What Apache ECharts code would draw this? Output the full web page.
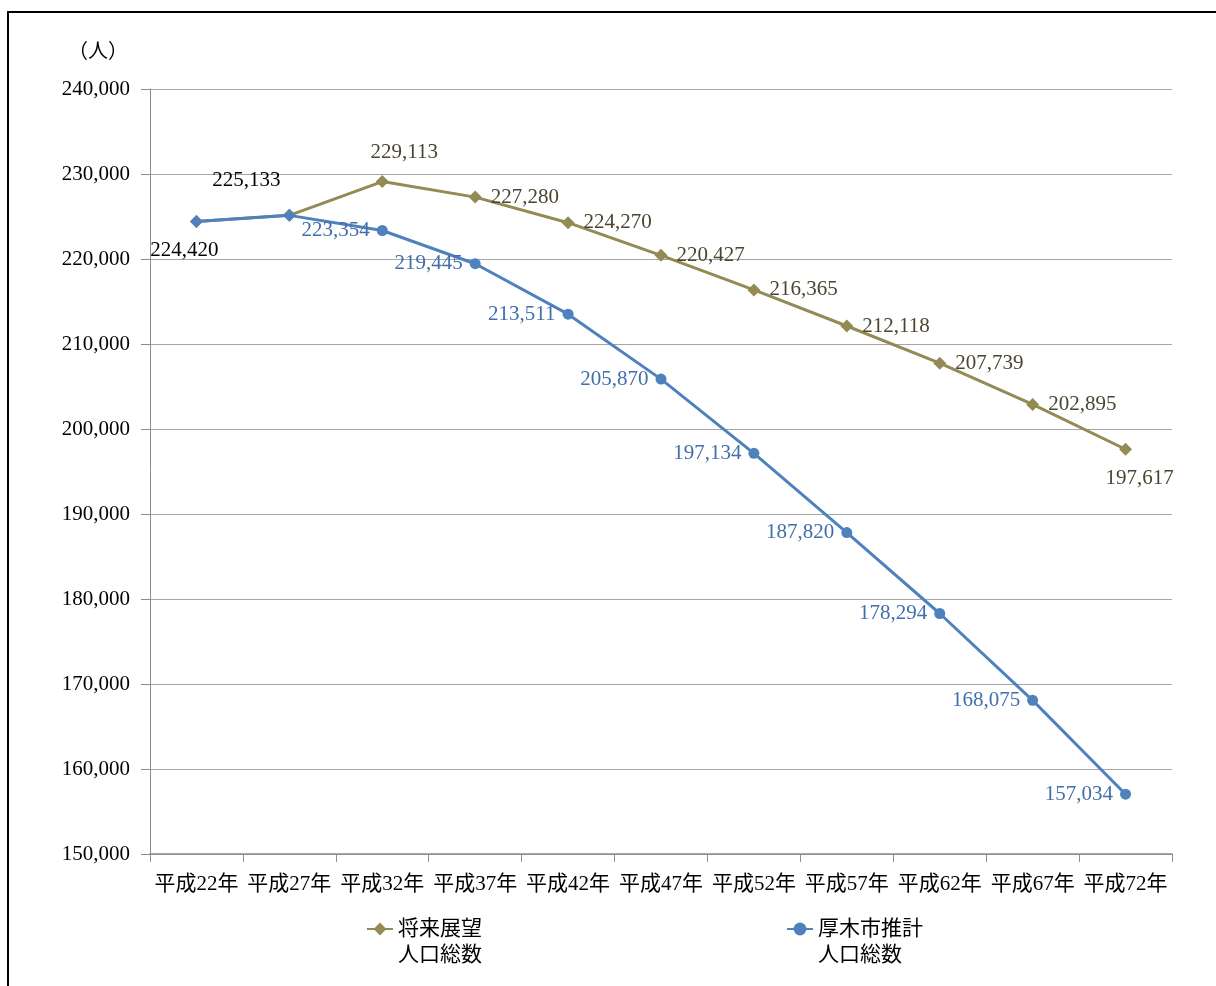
<!DOCTYPE html>
<html><head><meta charset="utf-8">
<script src="https://cdn.jsdelivr.net/npm/echarts@6/dist/echarts.min.js"></script>
<style>
html,body{margin:0;padding:0;background:#fff;overflow:hidden}
#frame{position:absolute;left:7px;top:11px;width:1300px;height:1100px;border:2.5px solid #000;box-sizing:border-box}
#chart{position:absolute;left:0;top:0;width:1216px;height:986px}
</style></head><body><div id="frame"></div><div id="chart"></div>
<script>
const categories = ['平成22年','平成27年','平成32年','平成37年','平成42年','平成47年','平成52年','平成57年','平成62年','平成67年','平成72年'];
const outlookValues = [224420,225133,229113,227280,224270,220427,216365,212118,207739,202895,197617];
const projectionValues = [224420,225133,223354,219445,213511,205870,197134,187820,178294,168075,157034];
const seriesNames = ['将来展望\n人口総数','厚木市推計\n人口総数'];
const yMin = 150000, yMax = 240000, yStep = 10000;
const unitLabel = '（人）';

const FONT = "'Liberation Serif','Noto Sans CJK JP',serif";
const OLIVE = '#948A54', BLUE = '#4F81BD';
const OLIVE_TXT = '#4A4530', BLUE_TXT = '#426EAA';
const fmt = v => v.toLocaleString('en-US');

const outlookData = outlookValues.map((v, i) => {
  const item = { value: v, label: { show: true, position: 'right', distance: 9 } };
  if (i < 2) item.label = { show: false };
  else if (i === 2) item.label = { show: true, position: 'top', distance: 12, offset: [22, 0] };
  else if (i === outlookValues.length - 1) item.label = { show: true, position: 'bottom', distance: 12, offset: [14, 0] };
  return item;
});
const projectionData = projectionValues.map((v, i) => {
  const item = { value: v, label: { show: true, position: 'left', distance: 7 } };
  if (i === 0) { item.symbol = 'diamond'; item.symbolSize = 13; item.label = { show: true, position: 'bottom', distance: 12, offset: [-12, 0], color: '#000' }; }
  if (i === 1) { item.symbol = 'diamond'; item.symbolSize = 13; item.label = { show: true, position: 'top', distance: 18, offset: [-43, 0], color: '#000' }; }
  return item;
});

const chart = echarts.init(document.getElementById('chart'));
const legendCommon = {
  orient: 'horizontal', top: 890, padding: 0, itemWidth: 26, itemHeight: 16,
  formatter: name => '\n' + name,
  textStyle: { fontFamily: FONT, fontSize: 21, color: '#000', lineHeight: 26 }
};
chart.setOption({
  animation: false,
  backgroundColor: 'transparent',
  grid: { left: 150, right: 44, top: 89, bottom: 132 },
  graphic: [{ type: 'text', left: 68, top: 43, style: { text: unitLabel, font: '20px ' + FONT, fill: '#000' } }],
  legend: [
    Object.assign({ left: 366, data: [seriesNames[0]] }, legendCommon),
    Object.assign({ left: 786, data: [seriesNames[1]] }, legendCommon)
  ],
  xAxis: {
    type: 'category', data: categories, boundaryGap: true,
    axisLine: { lineStyle: { color: '#8C8C8C', width: 1.5 } },
    axisTick: { show: true, length: 8, lineStyle: { color: '#8C8C8C' } },
    axisLabel: { fontFamily: FONT, fontSize: 21, color: '#000', margin: 20, interval: 0 }
  },
  yAxis: {
    type: 'value', min: yMin, max: yMax, interval: yStep,
    axisLine: { show: true, lineStyle: { color: '#8C8C8C', width: 1 } },
    axisTick: { show: true, length: 9, lineStyle: { color: '#8C8C8C' } },
    splitLine: { lineStyle: { color: '#A6A6A6', width: 1 } },
    axisLabel: { fontFamily: FONT, fontSize: 21, color: '#000', margin: 20, formatter: v => fmt(v) }
  },
  series: [
    {
      name: seriesNames[0], type: 'line', data: outlookData,
      symbol: 'diamond', symbolSize: 13,
      lineStyle: { color: OLIVE, width: 3 }, itemStyle: { color: OLIVE },
      label: { fontFamily: FONT, fontSize: 21, color: OLIVE_TXT, formatter: p => fmt(p.value) },
      z: 2
    },
    {
      name: seriesNames[1], type: 'line', data: projectionData,
      symbol: 'circle', symbolSize: 11,
      lineStyle: { color: BLUE, width: 3 }, itemStyle: { color: BLUE },
      label: { fontFamily: FONT, fontSize: 21, color: BLUE_TXT, formatter: p => fmt(p.value) },
      z: 3
    }
  ]
});
</script></body></html>
